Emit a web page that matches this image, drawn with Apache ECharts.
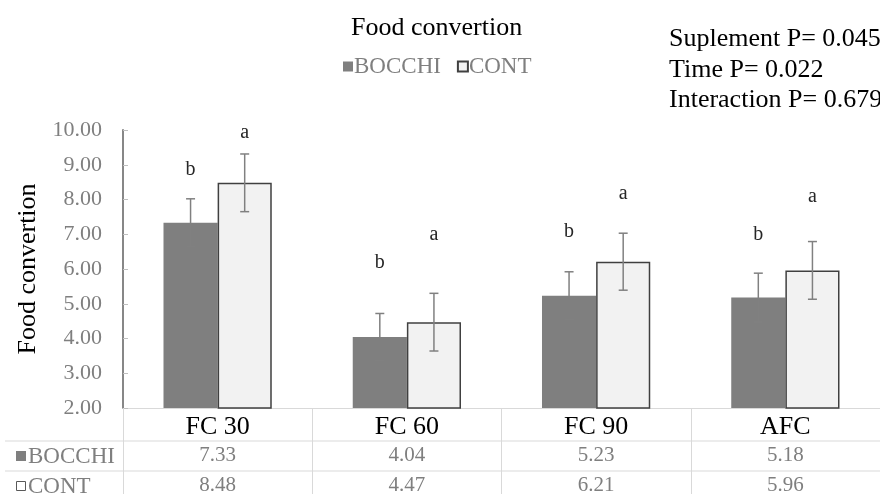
<!DOCTYPE html>
<html>
<head>
<meta charset="utf-8">
<script src="https://cdn.jsdelivr.net/npm/echarts@6/dist/echarts.min.js"></script>
<style>
html,body{margin:0;padding:0;background:#fff;}
#chart{width:880px;height:496px;}
</style>
</head>
<body>
<div id="chart"></div>
<script>
const categories = ['FC 30', 'FC 60', 'FC 90', 'AFC'];
const seriesNames = ['BOCCHI', 'CONT'];
const bocchi = [7.33, 4.04, 5.23, 5.18];
const cont = [8.48, 4.47, 6.21, 5.96];
const errBocchi = [0.69, 0.68, 0.69, 0.70];
const errCont = [0.83, 0.83, 0.82, 0.83];
const lettersBocchi = ['b', 'b', 'b', 'b'];
const lettersCont = ['a', 'a', 'a', 'a'];
const letterPosBocchi = [8.86, 6.18, 7.06, 7.00];
const letterPosCont = [9.91, 6.98, 8.16, 8.07];
const yMin = 2, yMax = 10, yInterval = 1;
const titleText = 'Food convertion';
const yAxisName = 'Food convertion';
const pTexts = ['Suplement P= 0.045', 'Time P= 0.022', 'Interaction P= 0.679'];

const FONT = "'Liberation Serif', 'Times New Roman', serif";
const DARK = '#7f7f7f';
const LIGHT = '#f2f2f2';
const BORDER = '#404040';
const GRIDLINE = '#d9d9d9';
const OFFSET = 0.143;

const chart = echarts.init(document.getElementById('chart'));

function errSeries(vals, errs, sign) {
  return {
    type: 'custom',
    z: 5,
    silent: true,
    data: vals.map((v, i) => [i, v - errs[i], v + errs[i]]),
    renderItem: function (params, api) {
      const i = api.value(0);
      const lo = api.coord([i, api.value(1)]);
      const hi = api.coord([i, api.value(2)]);
      const bw = api.size([1, 0])[0];
      const x = lo[0] + sign * bw * OFFSET;
      const style = { stroke: '#808080', lineWidth: 1.5 };
      return {
        type: 'group',
        children: [
          { type: 'line', shape: { x1: x, y1: hi[1], x2: x, y2: lo[1] }, style: style },
          { type: 'line', shape: { x1: x - 4.5, y1: hi[1], x2: x + 4.5, y2: hi[1] }, style: style },
          { type: 'line', shape: { x1: x - 4.5, y1: lo[1], x2: x + 4.5, y2: lo[1] }, style: style }
        ]
      };
    }
  };
}

function letterSeries(pos, letters, sign) {
  return {
    type: 'custom',
    z: 6,
    silent: true,
    data: pos.map((p, i) => [i, p]),
    renderItem: function (params, api) {
      const i = api.value(0);
      const c = api.coord([i, api.value(1)]);
      const bw = api.size([1, 0])[0];
      return {
        type: 'text',
        style: {
          text: letters[params.dataIndex],
          x: c[0] + sign * bw * OFFSET,
          y: c[1],
          align: 'center',
          verticalAlign: 'middle',
          fontSize: 20,
          fontFamily: FONT,
          fill: '#262626'
        }
      };
    }
  };
}

const option = {
  animation: false,
  backgroundColor: '#ffffff',
  title: {
    text: titleText,
    left: 351,
    top: 15,
    padding: 0,
    textStyle: { fontSize: 26, fontWeight: 'normal', fontFamily: FONT, color: '#000' }
  },
  legend: {
    data: seriesNames,
    left: 343,
    top: 55,
    padding: 0,
    itemWidth: 10,
    itemHeight: 10,
    itemGap: 16,
    icon: 'rect',
    textStyle: { fontSize: 23, fontFamily: FONT, color: '#7f7f7f', padding: [0, 0, 0, -4] }
  },
  grid: { left: 123, top: 130, width: 762, height: 280, containLabel: false },
  xAxis: [
    {
      type: 'category',
      data: categories,
      position: 'bottom',
      axisLine: { show: true, lineStyle: { color: GRIDLINE, width: 1 } },
      axisTick: { show: true, length: 86, interval: 0, lineStyle: { color: GRIDLINE, width: 1 } },
      axisLabel: { interval: 0, fontSize: 26, fontFamily: FONT, color: '#000', margin: 6 },
      splitLine: { show: false }
    },
    {
      type: 'category',
      data: categories,
      position: 'bottom',
      offset: 31,
      axisLine: { show: false },
      axisTick: { show: false },
      axisLabel: { interval: 0, fontSize: 21, fontFamily: FONT, color: '#7f7f7f', margin: 6,
        formatter: (v, i) => bocchi[i].toFixed(2) }
    },
    {
      type: 'category',
      data: categories,
      position: 'bottom',
      offset: 61,
      axisLine: { show: false },
      axisTick: { show: false },
      axisLabel: { interval: 0, fontSize: 21, fontFamily: FONT, color: '#7f7f7f', margin: 6,
        formatter: (v, i) => cont[i].toFixed(2) }
    }
  ],
  yAxis: {
    type: 'value',
    min: yMin,
    max: yMax,
    interval: yInterval,
    name: yAxisName,
    nameLocation: 'middle',
    nameGap: 82,
    nameTextStyle: { fontSize: 26, fontFamily: FONT, color: '#000' },
    axisLine: { show: true, lineStyle: { color: '#7a7a7a', width: 1.8 } },
    axisTick: { show: true, inside: true, length: 5, lineStyle: { color: '#bfbfbf' } },
    splitLine: { show: false },
    axisLabel: { fontSize: 22, fontFamily: FONT, color: '#7f7f7f', margin: 21,
      formatter: v => v.toFixed(2) }
  },
  series: [
    {
      name: seriesNames[0],
      type: 'bar',
      data: bocchi,
      barWidth: '28.6%',
      barGap: '0%',
      itemStyle: { color: DARK, borderColor: DARK, borderWidth: 0 }
    },
    {
      name: seriesNames[1],
      type: 'bar',
      data: cont,
      barWidth: '28.6%',
      barGap: '0%',
      itemStyle: { color: LIGHT, borderColor: BORDER, borderWidth: 1.5 }
    },
    errSeries(bocchi, errBocchi, -1),
    errSeries(cont, errCont, 1),
    letterSeries(letterPosBocchi, lettersBocchi, -1),
    letterSeries(letterPosCont, lettersCont, 1)
  ],
  graphic: [
    { type: 'line', shape: { x1: 5, y1: 441, x2: 885, y2: 441 }, style: { stroke: GRIDLINE, lineWidth: 1 }, silent: true },
    { type: 'line', shape: { x1: 5, y1: 471, x2: 885, y2: 471 }, style: { stroke: GRIDLINE, lineWidth: 1 }, silent: true },
    { type: 'rect', shape: { x: 16, y: 451, width: 10, height: 10 }, style: { fill: DARK } },
    { type: 'text', left: 28, top: 445, style: { text: seriesNames[0], fontSize: 23, fontFamily: FONT, fill: '#7f7f7f' } },
    { type: 'rect', shape: { x: 16.5, y: 481.5, width: 9, height: 9 }, style: { fill: '#ffffff', stroke: '#595959', lineWidth: 1 } },
    { type: 'text', left: 28, top: 475, style: { text: seriesNames[1], fontSize: 23, fontFamily: FONT, fill: '#7f7f7f' } },
    { type: 'text', left: 669, top: 26, style: { text: pTexts[0], fontSize: 26, fontFamily: FONT, fill: '#000' } },
    { type: 'text', left: 669, top: 57, style: { text: pTexts[1], fontSize: 26, fontFamily: FONT, fill: '#000' } },
    { type: 'text', left: 669, top: 87, style: { text: pTexts[2], fontSize: 26, fontFamily: FONT, fill: '#000' } }
  ]
};

chart.setOption(option);
</script>
</body>
</html>
